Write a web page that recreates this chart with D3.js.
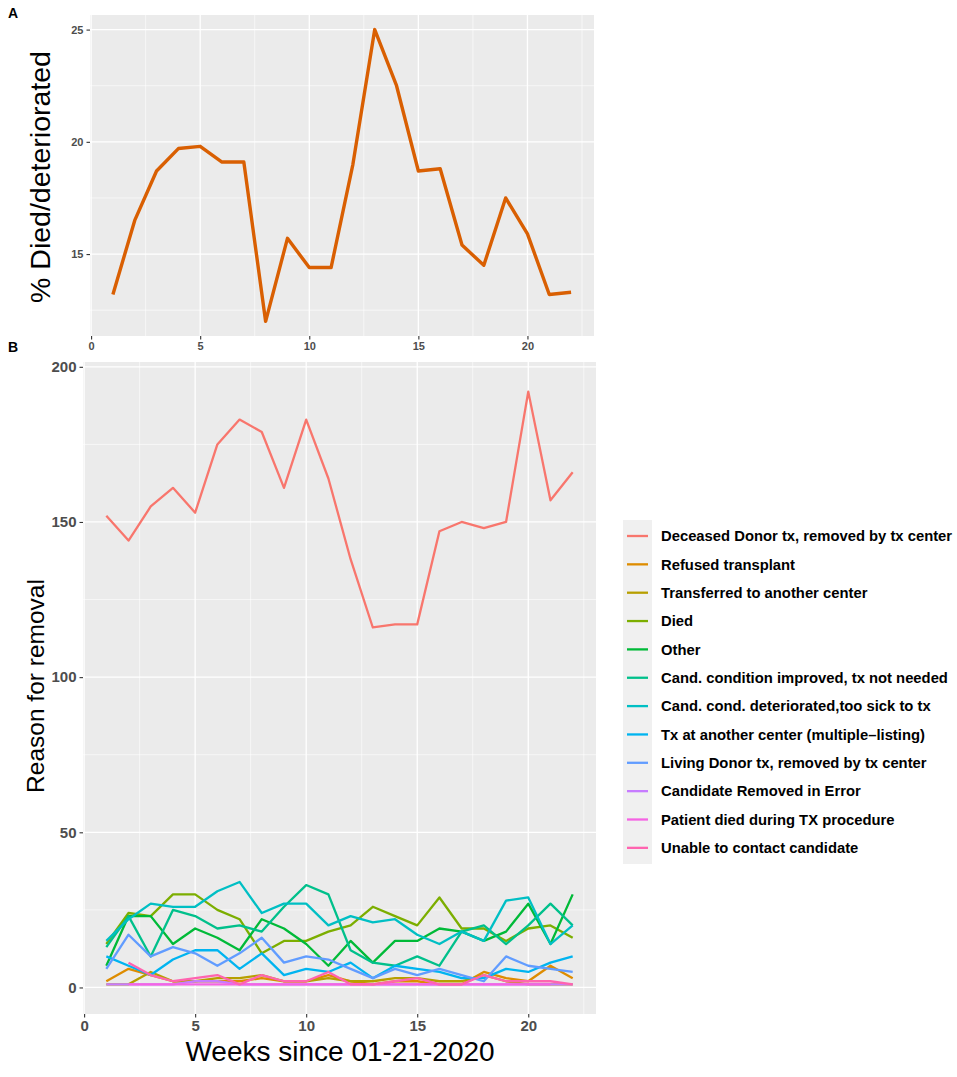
<!DOCTYPE html>
<html>
<head>
<meta charset="utf-8">
<script src="https://cdnjs.cloudflare.com/ajax/libs/d3/7.8.5/d3.min.js"></script>
<style>
  body { margin: 0; background: #fff; }
  svg { display: block; font-family: "Liberation Sans", Arial, Helvetica, sans-serif; }
</style>
</head>
<body>
<svg id="chart" width="957" height="1077"></svg>
<script>
// weeks since 01-21-2020
var weeks = [1, 2, 3, 4, 5, 6, 7, 8, 9, 10, 11, 12, 13, 14, 15, 16, 17, 18, 19, 20, 21, 22];

// panel A: % died / deteriorated
var pctDied = [13.2, 16.5, 18.7, 19.7, 19.8, 19.1, 19.1, 12.0, 15.7, 14.4, 14.4, 19.0,
               25.0, 22.5, 18.7, 18.8, 15.4, 14.5, 17.5, 15.9, 13.2, 13.3];

// panel B: reasons for removal (counts per week)
var reasons = [
  "Deceased Donor tx, removed by tx center",
  "Refused transplant",
  "Transferred to another center",
  "Died",
  "Other",
  "Cand. condition improved, tx not needed",
  "Cand. cond. deteriorated,too sick to tx",
  "Tx at another center (multiple\u2013listing)",
  "Living Donor tx, removed by tx center",
  "Candidate Removed in Error",
  "Patient died during TX procedure",
  "Unable to contact candidate"
];
var reasonColours = ["#F8766D", "#DE8C00", "#B79F00", "#7CAE00", "#00BA38", "#00C08B",
                     "#00BFC4", "#00B4F0", "#619CFF", "#C77CFF", "#F564E3", "#FF64B0"];

var deceasedDonor = [152, 144, 155, 161, 153, 175, 183, 179, 161, 183, 164, 138, 116, 117, 117, 147, 150, 148, 150, 192, 157, 166];
var refused       = [2, 6, 4, 2, 2, 2, 2, 3, 2, 2, 4, 2, 1, 2, 2, 1, 1, 5, 3, 2, 7, 3];
var transferred   = [1, 1, 5, 2, 2, 3, 3, 4, 2, 2, 3, 2, 2, 3, 3, 2, 2, 4, 2, 1, 1, 1];
var died          = [14, 24, 23, 30, 30, 25, 22, 11, 15, 15, 18, 20, 26, 23, 20, 29, 19, 19, 15, 19, 20, 16];
var other         = [7, 23, 23, 14, 19, 16, 12, 22, 19, 14, 7, 15, 8, 15, 15, 19, 18, 15, 18, 27, 14, 30];
var improved      = [13, 23, 10, 25, 23, 19, 20, 18, 26, 33, 30, 12, 8, 7, 10, 7, 18, 20, 14, 20, 27, 20];
var deteriorated  = [15, 22, 27, 26, 26, 31, 34, 24, 27, 27, 20, 23, 21, 22, 17, 14, 18, 15, 28, 29, 14, 20];
var txAnother     = [10, 7, 4, 9, 12, 12, 6, 11, 4, 6, 5, 8, 3, 7, 6, 5, 3, 3, 6, 5, 8, 10];
var livingDonor   = [6, 17, 10, 13, 11, 7, 11, 16, 8, 10, 9, 6, 3, 6, 4, 6, 4, 2, 10, 7, 6, 5];
var removedError  = [1, 1, 1, 1, 2, 2, 1, 1, 1, 1, 1, 1, 1, 1, 1, 1, 1, 1, 1, 1, 1, 1];
var diedDuringTx  = [null, 1, 1, 1, 1, 1, 1, 1, 1, 1, 1, 1, 1, 1, 1, 1, 1, 1, 1, 1, 1, null];
var unableContact = [null, 8, 4, 2, 3, 4, 1, 4, 2, 2, 5, 1, 1, 2, 3, 1, 1, 4, 2, 2, 2, 1];

var seriesValues = [deceasedDonor, refused, transferred, died, other, improved,
                    deteriorated, txAnother, livingDonor, removedError, diedDuringTx, unableContact];

var xTicks = [0, 5, 10, 15, 20];
var xMinor = [2.5, 7.5, 12.5, 17.5, 22.5];
var yTicksA = [15, 20, 25];
var yMinorA = [12.5, 17.5, 22.5];
var yTicksB = [0, 50, 100, 150, 200];
var yMinorB = [25, 75, 125, 175];

var svg = d3.select("#chart");
var tickColour = "#4D4D4D";

// ggplot-like 5% expansion
function expand(ext) {
	var pad = (ext[1] - ext[0]) * 0.05;
	return [ext[0] - pad, ext[1] + pad];
}

function drawPanel(g, x, y, xMaj, xMin, yMaj, yMin) {
	var x0 = x.range()[0], x1 = x.range()[1];
	var y0 = y.range()[0], y1 = y.range()[1];
	g.append("rect")
		.attr("x", x0).attr("y", y1)
		.attr("width", x1 - x0).attr("height", y0 - y1)
		.attr("fill", "#EBEBEB");
	g.selectAll(".yminor").data(yMin).enter().append("line")
		.attr("x1", x0).attr("x2", x1)
		.attr("y1", function (d) { return y(d); })
		.attr("y2", function (d) { return y(d); })
		.attr("stroke", "#fff").attr("stroke-width", 0.6);
	g.selectAll(".xminor").data(xMin).enter().append("line")
		.attr("y1", y0).attr("y2", y1)
		.attr("x1", function (d) { return x(d); })
		.attr("x2", function (d) { return x(d); })
		.attr("stroke", "#fff").attr("stroke-width", 0.6);
	g.selectAll(".ymajor").data(yMaj).enter().append("line")
		.attr("x1", x0).attr("x2", x1)
		.attr("y1", function (d) { return y(d); })
		.attr("y2", function (d) { return y(d); })
		.attr("stroke", "#fff").attr("stroke-width", 1.3);
	g.selectAll(".xmajor").data(xMaj).enter().append("line")
		.attr("y1", y0).attr("y2", y1)
		.attr("x1", function (d) { return x(d); })
		.attr("x2", function (d) { return x(d); })
		.attr("stroke", "#fff").attr("stroke-width", 1.3);
}

function drawAxes(g, x, y, xMaj, yMaj, fontSize) {
	var xAxis = d3.axisBottom(x).tickValues(xMaj).tickSize(3.5).tickPadding(3).tickFormat(d3.format("d"));
	var yAxis = d3.axisLeft(y).tickValues(yMaj).tickSize(3.5).tickPadding(3).tickFormat(d3.format("d"));
	var gx = g.append("g").attr("transform", "translate(0," + y.range()[0] + ")").call(xAxis);
	var gy = g.append("g").attr("transform", "translate(" + x.range()[0] + ",0)").call(yAxis);
	[gx, gy].forEach(function (a) {
		a.select(".domain").remove();
		a.selectAll(".tick line").attr("stroke", "#333").attr("stroke-width", 1.1);
		a.selectAll(".tick text")
			.attr("fill", tickColour)
			.style("font-size", fontSize + "px")
			.style("font-weight", "bold")
			.style("font-family", "'Liberation Sans', Arial, sans-serif");
	});
}

// ---- panel A ----
var gA = svg.append("g");
var xA = d3.scaleLinear().domain(expand(d3.extent(weeks))).range([90, 594]);
var yA = d3.scaleLinear().domain(expand(d3.extent(pctDied))).range([336, 15]);
drawPanel(gA, xA, yA, xTicks, xMinor, yTicksA, yMinorA);

var lineA = d3.line()
	.x(function (d, i) { return xA(weeks[i]); })
	.y(function (d) { return yA(d); });
gA.append("path")
	.datum(pctDied)
	.attr("d", lineA)
	.attr("fill", "none")
	.attr("stroke", "#D95F02")
	.attr("stroke-width", 3.4)
	.attr("stroke-linejoin", "round");
drawAxes(gA, xA, yA, xTicks, yTicksA, 11);

gA.append("text")
	.attr("transform", "translate(50,177) rotate(-90)")
	.attr("text-anchor", "middle")
	.style("font-size", "28.5px")
	.text("% Died/deteriorated");

svg.append("text").attr("x", 8).attr("y", 18)
	.style("font-size", "14px").style("font-weight", "bold").text("A");
svg.append("text").attr("x", 8).attr("y", 352)
	.style("font-size", "14px").style("font-weight", "bold").text("B");

// ---- panel B ----
var gB = svg.append("g");
var allB = [].concat.apply([], seriesValues).filter(function (v) { return v !== null; });
var xB = d3.scaleLinear().domain(expand(d3.extent(weeks))).range([83, 596]);
var yB = d3.scaleLinear().domain(expand(d3.extent(allB))).range([1014, 362]);
drawPanel(gB, xB, yB, xTicks, xMinor, yTicksB, yMinorB);

var lineB = d3.line()
	.defined(function (d) { return d !== null; })
	.x(function (d, i) { return xB(weeks[i]); })
	.y(function (d) { return yB(d); });

gB.selectAll(".series")
	.data(seriesValues)
	.enter()
  .append("path")
	.attr("class", "series")
	.attr("d", lineB)
	.attr("fill", "none")
	.attr("stroke", function (d, i) { return reasonColours[i]; })
	.attr("stroke-width", 2.3)
	.attr("stroke-linejoin", "round");
drawAxes(gB, xB, yB, xTicks, yTicksB, 15);

gB.append("text")
	.attr("transform", "translate(44,686) rotate(-90)")
	.attr("text-anchor", "middle")
	.style("font-size", "24.5px")
	.text("Reason for removal");

gB.append("text")
	.attr("x", 340).attr("y", 1061)
	.attr("text-anchor", "middle")
	.style("font-size", "28px")
	.text("Weeks since 01-21-2020");

// ---- legend ----
var legendTop = 536, legendStep = 28.35;
var legend = svg.append("g");
legend.append("rect")
	.attr("x", 623).attr("y", 520)
	.attr("width", 29).attr("height", 344)
	.attr("fill", "#F0F0F0");
var rows = legend.selectAll(".row")
	.data(reasons)
	.enter()
  .append("g")
	.attr("class", "row")
	.attr("transform", function (d, i) { return "translate(0," + (legendTop + i * legendStep) + ")"; });
rows.append("line")
	.attr("x1", 627).attr("x2", 648)
	.attr("stroke", function (d, i) { return reasonColours[i]; })
	.attr("stroke-width", 2.3);
rows.append("text")
	.attr("x", 661)
	.attr("dy", "0.36em")
	.style("font-size", "14.8px")
	.style("font-weight", "bold")
	.text(function (d) { return d; });
</script>
</body>
</html>
